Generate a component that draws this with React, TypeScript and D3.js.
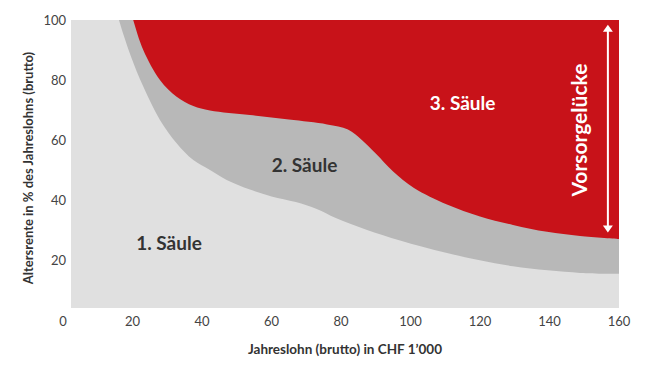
import * as d3 from 'd3';

// Jahreslohn (CHF 1'000) vs. Altersrente in % des Jahreslohns
const xTicks = [0, 20, 40, 60, 80, 100, 120, 140, 160];
const yTicks = [20, 40, 60, 80, 100];

// Obergrenze 1. Säule
const saeule1 = [
  { x: 14.5, y: 107 }, { x: 16.1, y: 100 }, { x: 19.5, y: 88 }, { x: 23.1, y: 77.8 },
  { x: 27.9, y: 66.7 }, { x: 32.7, y: 58.9 }, { x: 37.5, y: 53.3 }, { x: 42.3, y: 50 },
  { x: 47.1, y: 46.7 }, { x: 53.8, y: 43.5 }, { x: 60, y: 41.2 }, { x: 67, y: 39.3 },
  { x: 73, y: 37 }, { x: 78.5, y: 34 }, { x: 87.5, y: 30 }, { x: 97, y: 26.5 },
  { x: 110.5, y: 22.3 }, { x: 129.5, y: 17.9 }, { x: 148.8, y: 15.7 }, { x: 160, y: 15.4 },
];

// Obergrenze 2. Säule
const saeule2 = [
  { x: 19, y: 105 }, { x: 20.2, y: 100 }, { x: 23.1, y: 90 }, { x: 27.9, y: 80 },
  { x: 32.7, y: 74.4 }, { x: 37.5, y: 71.3 }, { x: 42.3, y: 69.8 }, { x: 53.8, y: 68.3 },
  { x: 65, y: 66.8 }, { x: 76, y: 65.2 }, { x: 82, y: 63.5 }, { x: 86, y: 60 },
  { x: 90, y: 55.5 }, { x: 95, y: 49.5 }, { x: 101, y: 44 }, { x: 110.5, y: 38.5 },
  { x: 120, y: 34.5 }, { x: 129.5, y: 31.7 }, { x: 139.3, y: 29.4 }, { x: 148.8, y: 28 },
  { x: 160, y: 27 },
];

const plotExtent = { x0: 2.3, x1: 160, y0: 4, y1: 100 };
const labels = [
  { text: '1. Säule', x: 30.5, y: 23.2, color: '#333' },
  { text: '2. Säule', x: 69.5, y: 49.5, color: '#333' },
  { text: '3. Säule', x: 115, y: 70, color: '#fff' },
];
const gap = { x: 156.8, from: 98.4, to: 29.2, label: 'Vorsorgelücke', labelX: 150.9 };

export default function App() {
  const width = 646;
  const height = 390;
  const x = d3.scaleLinear().domain([0, 160]).range([63, 619]);
  const y = d3.scaleLinear().domain([0, 100]).range([320, 20]);

  const area = (data: { x: number; y: number }[]) =>
    d3.area<{ x: number; y: number }>()
      .x(d => x(d.x))
      .y0(d => y(d.y))
      .y1(y(110))
      .curve(d3.curveCatmullRom.alpha(0.5))(data) || '';

  const px0 = x(plotExtent.x0), px1 = x(plotExtent.x1);
  const py0 = y(plotExtent.y1), py1 = y(plotExtent.y0);
  const font = 'Lato, "DejaVu Sans", sans-serif';
  const ax = x(gap.x), ayTop = y(gap.from), ayBot = y(gap.to);

  return (
    <svg width={width} height={height} style={{ position: 'absolute', left: 0, top: 0, background: '#fff' }}>
      <defs>
        <clipPath id="plot">
          <rect x={px0} y={py0} width={px1 - px0} height={py1 - py0} />
        </clipPath>
      </defs>
      <rect x={px0} y={py0} width={px1 - px0} height={py1 - py0} fill="#e0e0e0" />
      <g clipPath="url(#plot)">
        <path d={area(saeule1)} fill="#b8b8b8" />
        <path d={area(saeule2)} fill="#c81219" />
      </g>

      {/* Achsenbeschriftung */}
      {xTicks.map(t => (
        <text key={'x' + t} x={x(t)} y={325.5} textAnchor="middle" fontFamily={font} fontSize={13} fill="#444">{t}</text>
      ))}
      {yTicks.map(t => (
        <text key={'y' + t} x={66} y={y(t) + 4.5} textAnchor="end" fontFamily={font} fontSize={13} fill="#444">{t}</text>
      ))}
      <text x={345} y={354} textAnchor="middle" fontFamily={font} fontSize={13.5} fontWeight="bold" fill="#333">
        Jahreslohn (brutto) in CHF 1’000
      </text>
      <text transform="translate(32.5,168) rotate(-90)" textAnchor="middle" fontFamily={font} fontSize={13} fontWeight="bold" fill="#333">
        Altersrente in % des Jahreslohns (brutto)
      </text>

      {labels.map(l => (
        <text key={l.text} x={x(l.x)} y={y(l.y)} textAnchor="middle" fontFamily={font} fontSize={19} fontWeight="bold" fill={l.color}>{l.text}</text>
      ))}

      {/* Vorsorgelücke */}
      <line x1={ax} x2={ax} y1={ayTop + 5} y2={ayBot - 5} stroke="#fff" strokeWidth={2} />
      <path d={`M${ax},${ayTop} l-5,7 h10 z`} fill="#fff" />
      <path d={`M${ax},${ayBot} l-5,-7 h10 z`} fill="#fff" />
      <text transform={`translate(${x(gap.labelX)},${(ayTop + ayBot) / 2 + 1.5}) rotate(-90)`} textAnchor="middle"
        fontFamily={font} fontSize={21} fontWeight="bold" fill="#fff">{gap.label}</text>
    </svg>
  );
}
